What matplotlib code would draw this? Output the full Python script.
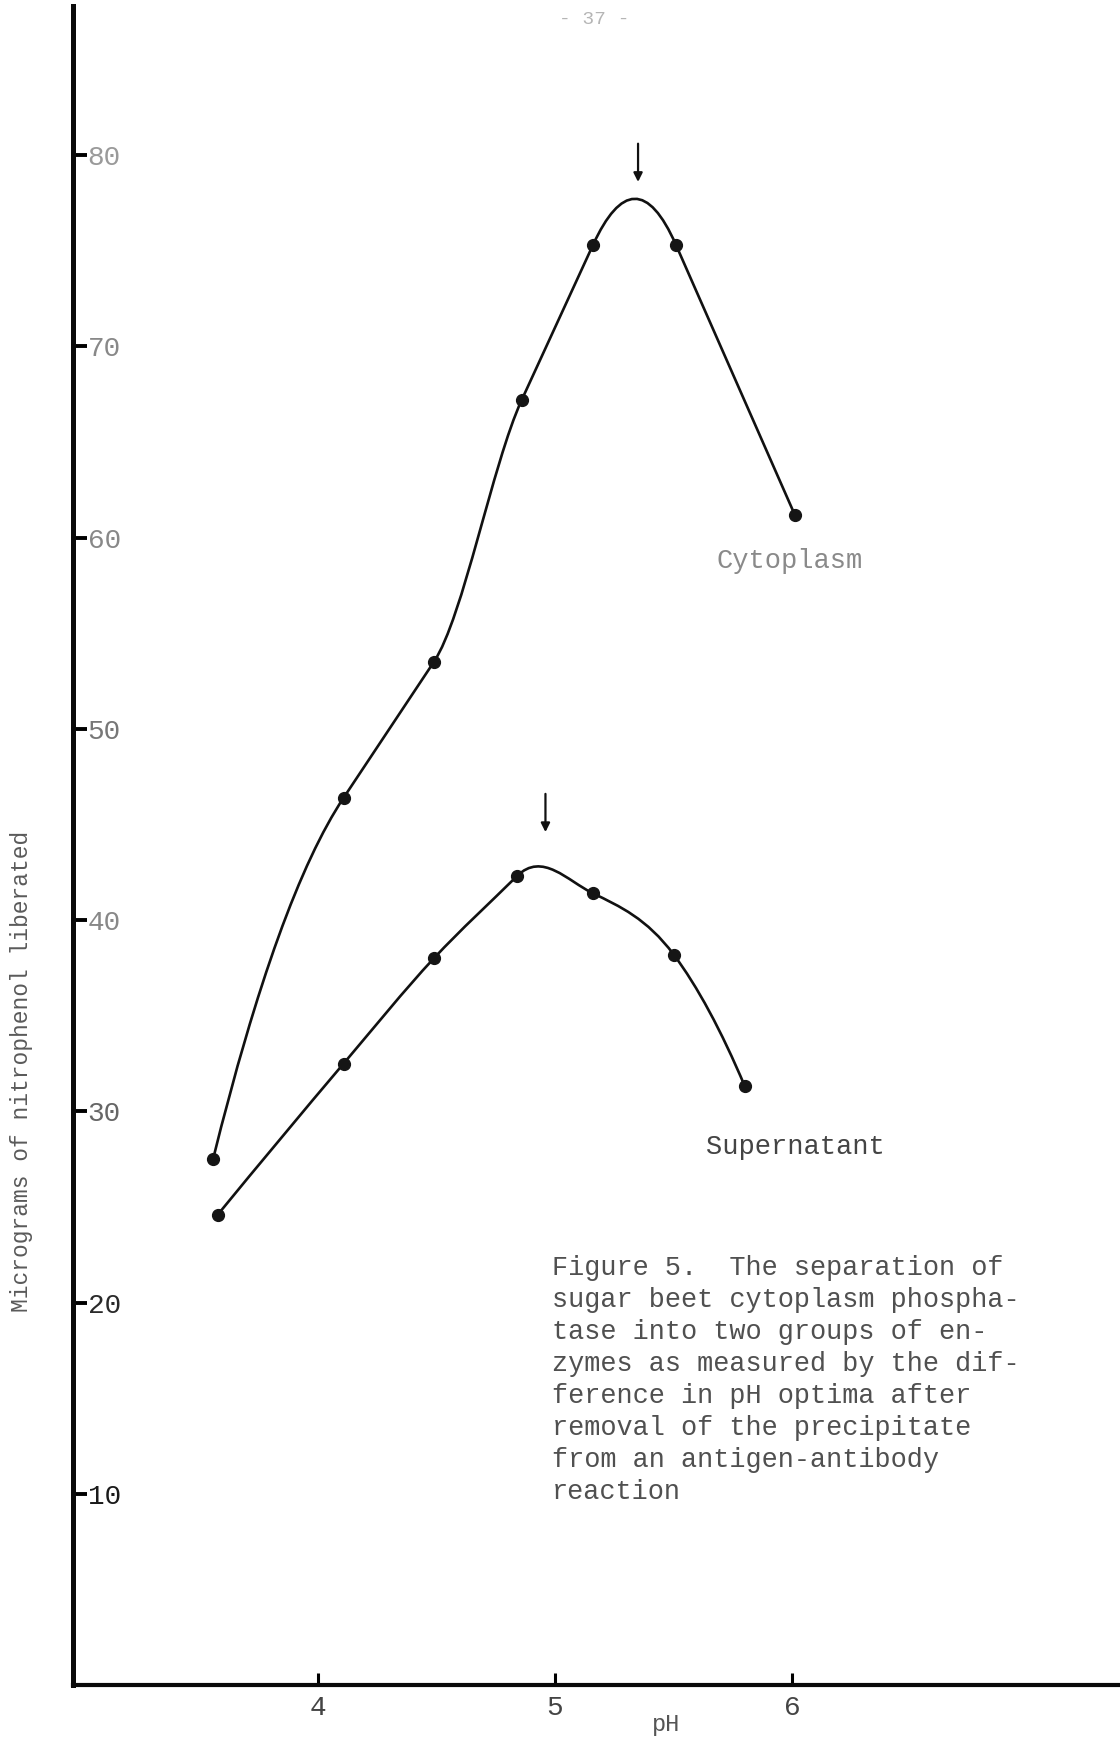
"""pH activity curves for sugar beet cytoplasm phosphatase, before and after
removal of the antigen-antibody precipitate (Figure 5)."""

import matplotlib.pyplot as plt
import numpy as np
from matplotlib.patches import PathPatch
from matplotlib.path import Path

# measured points, micrograms of nitrophenol liberated
cyto_ph = [3.56, 4.11, 4.49, 4.86, 5.16, 5.51, 6.01]
cyto_val = [27.5, 46.4, 53.5, 67.2, 75.3, 75.3, 61.2]
super_ph = [3.58, 4.11, 4.49, 4.84, 5.16, 5.50, 5.80]
super_val = [24.6, 32.5, 38.0, 42.3, 41.4, 38.2, 31.3]

# pH optima marked with arrows
optima_ph = [5.35, 4.96]
optima_tip = [78.6, 44.6]

x_ticks = [4, 5, 6]
y_ticks = [10, 20, 30, 40, 50, 60, 70, 80]
y_tick_colors = ["#1a1a1a", "#2a2a2a", "#666666", "#888888",
                 "#777777", "#888888", "#888888", "#9a9a9a"]

caption = [
    "Figure 5.  The separation of",
    "sugar beet cytoplasm phospha-",
    "tase into two groups of en-",
    "zymes as measured by the dif-",
    "ference in pH optima after",
    "removal of the precipitate",
    "from an antigen-antibody",
    "reaction",
]

MONO = ["Liberation Mono", "DejaVu Sans Mono"]


def smooth_path(xs, ys):
    """Hermite cubic through the points as a Bezier path (y as a function
    of x). Slopes are centred chords, except next to an inflection, where
    the gentler neighbouring chord is used so the side stays straight, and
    at turning points, where the steeper one rounds off the top."""
    x = np.asarray(xs, float)
    y = np.asarray(ys, float)
    h = np.diff(x)
    d = np.diff(y) / h
    s = np.diff(d)  # change of chord slope at each interior point
    m = np.empty_like(x)
    for i in range(1, len(x) - 1):
        a, b = d[i - 1], d[i]
        if a * b <= 0:
            m[i] = a if abs(a) > abs(b) else b
            continue
        near = [s[j] for j in (i - 2, i) if 0 <= j < len(s)]
        if any(v * s[i - 1] < 0 for v in near):
            m[i] = a if abs(a) < abs(b) else b
        else:
            m[i] = (a * h[i] + b * h[i - 1]) / (h[i - 1] + h[i])
    m[0] = 2 * d[0] - m[1]
    m[-1] = 2 * d[-1] - m[-2]
    verts = [(x[0], y[0])]
    codes = [Path.MOVETO]
    for i in range(len(x) - 1):
        k = h[i] / 3.0
        verts += [(x[i] + k, y[i] + m[i] * k),
                  (x[i + 1] - k, y[i + 1] - m[i + 1] * k),
                  (x[i + 1], y[i + 1])]
        codes += [Path.CURVE4] * 3
    return Path(verts, codes)


W, H = 1120, 1741
fig = plt.figure(figsize=(W / 100, H / 100), dpi=100)
ax = fig.add_axes([73 / W, 56 / H, (W - 73) / W, (1685 - 6) / H])
ax.set_xlim(2.97, 7.38)
ax.set_ylim(0, 87.8)

for xs, ys in [(cyto_ph, cyto_val), (super_ph, super_val)]:
    ax.add_patch(PathPatch(smooth_path(xs, ys), fill=False,
                           edgecolor="#111111", lw=1.9, capstyle="round"))
    ax.plot(xs, ys, "o", color="#151515", ms=8.5, zorder=3)

for xp, tip in zip(optima_ph, optima_tip):
    ax.annotate("", xy=(xp, tip), xytext=(xp, tip + 2.0),
                arrowprops=dict(arrowstyle="-|>", lw=1.6, color="#111111",
                                mutation_scale=13, shrinkA=0, shrinkB=0))

ax.spines[["top", "right"]].set_visible(False)
ax.spines["left"].set_linewidth(3.6)
ax.spines["bottom"].set_linewidth(3.0)
ax.spines["left"].set_color("#0a0a0a")
ax.spines["bottom"].set_color("#0a0a0a")

ax.set_xticks(x_ticks)
ax.set_xticklabels([str(v) for v in x_ticks], family=MONO, fontsize=20,
                   color="#444444")
ax.tick_params(axis="x", direction="in", length=9, width=2.2, pad=7)

ax.set_yticks(y_ticks)
ax.set_yticklabels([str(v) for v in y_ticks], family=MONO, fontsize=20,
                   ha="left")
ax.tick_params(axis="y", direction="in", length=10, width=2.8, pad=-10.5)
for lab, col in zip(ax.get_yticklabels(), y_tick_colors):
    lab.set_color(col)

ax.text(716 / W, 1 - 561 / H, "Cytoplasm", transform=fig.transFigure,
        family=MONO, fontsize=19.5, color="#8a8a8a", va="center")
ax.text(706 / W, 1 - 1147 / H, "Supernatant", transform=fig.transFigure,
        family=MONO, fontsize=19.5, color="#444444", va="center")

for i, line in enumerate(caption):
    fig.text(552 / W, 1 - (1268 + 32.0 * i) / H, line, family=MONO,
             fontsize=19.4, color="#505050", va="center")

fig.text(22 / W, 1 - 1071 / H, "Micrograms of nitrophenol liberated",
         rotation=90, family=MONO, fontsize=16.5, color="#5a5a5a",
         ha="center", va="center")
fig.text(666 / W, 1 - 1724 / H, "pH", family=MONO, fontsize=17,
         color="#555555", ha="center", va="center")
fig.text(594 / W, 1 - 20 / H, "- 37 -", family=MONO, fontsize=14,
         color="#b5b5b5", ha="center", va="center")

fig.savefig("out.png", dpi=100)
